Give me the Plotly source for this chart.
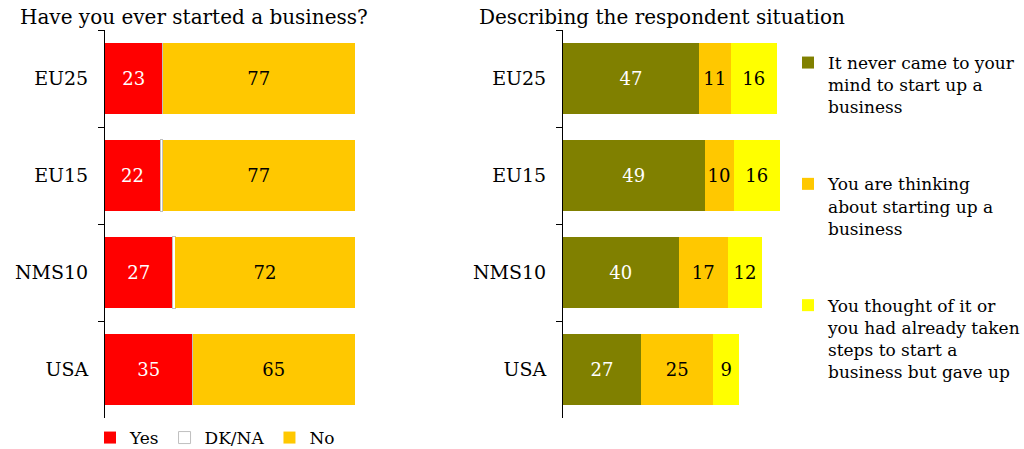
import plotly.graph_objects as go

W, H = 1024, 449

categories = ["EU25", "EU15", "NMS10", "USA"]

# Left chart: Have you ever started a business?
yes_vals = [23, 22, 27, 35]
dkna_vals = [0, 1, 1, 0]
no_vals = [77, 77, 72, 65]

# Right chart: Describing the respondent situation
never_vals = [47, 49, 40, 27]
thinking_vals = [11, 10, 17, 25]
gaveup_vals = [16, 16, 12, 9]

left_title = "Have you ever started a business?"
right_title = "Describing the respondent situation"
legend_never = "It never came to your<br>mind to start up a<br>business"
legend_thinking = "You are thinking<br>about starting up a<br>business"
legend_gaveup = "You thought of it or<br>you had already taken<br>steps to start a<br>business but gave up"

FONT = "DejaVu Serif"
RED = "#FF0000"
ORANGE = "#FFC800"
OLIVE = "#808000"
YELLOW = "#FFFF00"

def px_x(p):
    return p / W

def px_y(p):
    return 1 - p / H

fig = go.Figure()

def bar(x, name, color, textcolor, xaxis, yaxis, legend, group, line=None, show_text=True):
    fig.add_trace(go.Bar(
        y=categories, x=x, orientation="h", name=name,
        marker=dict(color=color, line=line or dict(width=0)),
        text=[str(v) if (show_text and v > 0) else "" for v in x],
        textposition="inside", insidetextanchor="middle", textangle=0,
        textfont=dict(family=FONT, size=18, color=textcolor),
        xaxis=xaxis, yaxis=yaxis, legend=legend, legendgroup=group,
        hoverinfo="skip",
    ))

bar(yes_vals, "Yes", RED, "white", "x", "y", "legend", "a")
bar(dkna_vals, "DK/NA", "white", "black", "x", "y", "legend", "b",
    line=dict(color="#BFBFBF", width=1), show_text=False)
bar(no_vals, "No", ORANGE, "black", "x", "y", "legend", "c")

bar(never_vals, legend_never, OLIVE, "white", "x2", "y2", "legend2", "d")
bar(thinking_vals, legend_thinking, ORANGE, "black", "x2", "y2", "legend2", "e")
bar(gaveup_vals, legend_gaveup, YELLOW, "black", "x2", "y2", "legend2", "f")

ydom = [px_y(418), px_y(30)]
yax = dict(domain=ydom, categoryorder="array", categoryarray=categories,
           range=[3.5, -0.5], showline=True, linecolor="black", linewidth=1,
           ticks="outside", tickson="boundaries", ticklen=6, tickcolor="black",
           tickwidth=1,
           tickfont=dict(family=FONT, size=19, color="black"),
           ticklabelstandoff=12, automargin=False, showgrid=False, zeroline=False)

fig.update_layout(
    width=W, height=H, margin=dict(l=0, r=0, t=0, b=0, autoexpand=False),
    paper_bgcolor="white", plot_bgcolor="white",
    barmode="stack", bargap=0.26,
    font=dict(family=FONT, size=17, color="black"),
    xaxis=dict(domain=[px_x(105), px_x(355)], range=[0, 100], visible=False),
    xaxis2=dict(domain=[px_x(563), px_x(563 + 2.89 * 80)], range=[0, 80], visible=False),
    yaxis=dict(**yax, anchor="x"),
    yaxis2=dict(**yax, anchor="x2"),
    legend=dict(orientation="h", x=px_x(90), y=px_y(420), xanchor="left", yanchor="top",
                font=dict(family=FONT, size=17), bgcolor="rgba(0,0,0,0)",
                traceorder="normal", itemclick=False),
    legend2=dict(orientation="v", x=px_x(788), y=px_y(45), xanchor="left", yanchor="top",
                 font=dict(family=FONT, size=17), bgcolor="rgba(0,0,0,0)",
                 valign="top", tracegroupgap=52, traceorder="grouped", itemclick=False),
    annotations=[
        dict(text=left_title, x=px_x(194), y=px_y(17), xref="paper", yref="paper",
             showarrow=False, xanchor="center", yanchor="middle",
             font=dict(family=FONT, size=20)),
        dict(text=right_title, x=px_x(662), y=px_y(17), xref="paper", yref="paper",
             showarrow=False, xanchor="center", yanchor="middle",
             font=dict(family=FONT, size=20)),
    ],
)

fig.write_html("out.html")
